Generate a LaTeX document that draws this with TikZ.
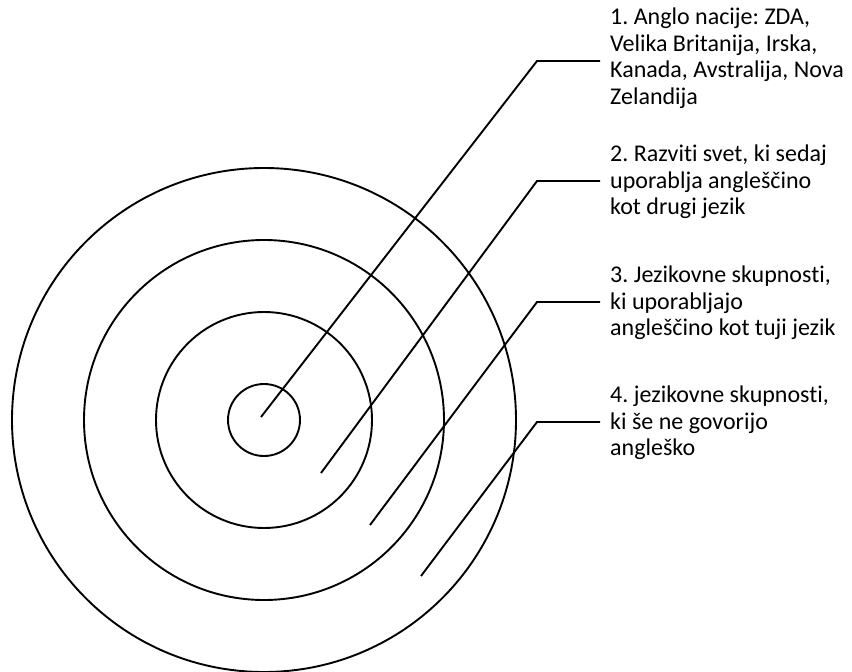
\documentclass[tikz,border=0pt]{standalone}
\usepackage{fontspec}
\setmainfont{Carlito}[Ligatures=NoCommon]
\frenchspacing
\begin{document}
\begin{tikzpicture}[x=1pt,y=-1pt,
  ring/.style={draw, circle, line width=1.9pt, inner sep=0pt},
  lead/.style={line width=1.9pt},
  lbl/.style={anchor=north west, inner sep=0pt, align=left, font=\fontsize{24}{26.5}\selectfont}]
\useasboundingbox (0,0) rectangle (852,672);
\node[ring, minimum size=72pt]  (r1) at (264,420) {};
\node[ring, minimum size=216pt] (r2) at (264,420) {};
\node[ring, minimum size=360pt] (r3) at (264,420) {};
\node[ring, minimum size=504pt] (r4) at (264,420) {};
\coordinate (s1) at (261,417); \coordinate (k1) at (537,61);  \coordinate (e1) at (600,61);
\coordinate (s2) at (321,473); \coordinate (k2) at (537,181); \coordinate (e2) at (600,181);
\coordinate (s3) at (370,525); \coordinate (k3) at (537,302); \coordinate (e3) at (600,302);
\coordinate (s4) at (421,576); \coordinate (k4) at (537,422); \coordinate (e4) at (600,422);
\draw[lead] (s1) -- (k1) -- (e1);
\draw[lead] (s2) -- (k2) -- (e2);
\draw[lead] (s3) -- (k3) -- (e3);
\draw[lead] (s4) -- (k4) -- (e4);
\node[lbl] (t1) at (610,8) {1. Anglo nacije: ZDA,\\Velika Britanija, Irska,\\Kanada, Avstralija, Nova\\Zelandija};
\node[lbl] (t2) at (610,145) {2. Razviti svet, ki sedaj\\uporablja angleščino\\kot drugi jezik};
\node[lbl] (t3) at (610,266) {3. Jezikovne skupnosti,\\ki uporabljajo\\angleščino kot tuji jezik};
\node[lbl] (t4) at (610,386) {4. jezikovne skupnosti,\\ki še ne govorijo\\angleško};
\end{tikzpicture}
\end{document}
